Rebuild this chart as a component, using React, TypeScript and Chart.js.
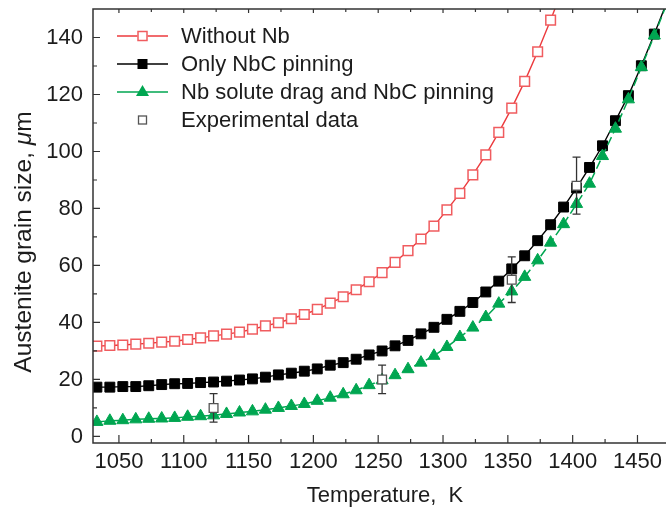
import React, { useEffect, useRef } from "react";
import { Chart, registerables } from "chart.js";

Chart.register(...registerables);

// ---- data ----
const redT = [1033, 1043, 1053, 1063, 1073, 1083, 1093, 1103, 1113, 1123, 1133, 1143, 1153, 1163, 1173, 1183, 1193, 1203, 1213, 1223, 1233, 1243, 1253, 1263, 1273, 1283, 1293, 1303, 1313, 1323, 1333, 1343, 1353, 1363, 1373, 1383, 1393];
const redV = [31.7, 31.9, 32.1, 32.4, 32.7, 33.1, 33.4, 34.0, 34.6, 35.3, 35.9, 36.6, 37.6, 38.8, 39.9, 41.3, 42.8, 44.6, 46.8, 49.0, 51.5, 54.3, 57.5, 61.1, 65.2, 69.3, 73.8, 79.5, 85.3, 91.8, 98.8, 106.7, 115.2, 124.6, 135.0, 146.1, 158.0];

const modelT = [1033, 1043, 1053, 1063, 1073, 1083, 1093, 1103, 1113, 1123, 1133, 1143, 1153, 1163, 1173, 1183, 1193, 1203, 1213, 1223, 1233, 1243, 1253, 1263, 1273, 1283, 1293, 1303, 1313, 1323, 1333, 1343, 1353, 1363, 1373, 1383, 1393, 1403, 1413, 1423, 1433, 1443, 1453, 1463, 1473];
const blackV = [17.3, 17.3, 17.5, 17.5, 17.8, 18.2, 18.5, 18.6, 18.9, 19.1, 19.4, 19.8, 20.2, 20.8, 21.6, 22.2, 22.9, 23.7, 25.0, 25.9, 27.1, 28.6, 30.0, 31.8, 33.7, 36.0, 38.3, 41.1, 43.9, 47.0, 50.7, 54.5, 58.8, 63.4, 68.7, 74.3, 80.5, 87.2, 94.4, 102.0, 110.8, 119.6, 130.1, 141.2, 152.8];
const greenV = [5.1, 5.5, 5.7, 6.0, 6.2, 6.3, 6.5, 6.9, 7.1, 7.4, 7.9, 8.4, 8.8, 9.4, 10.0, 10.7, 11.4, 12.5, 13.6, 14.8, 16.2, 18.0, 19.7, 21.5, 23.6, 25.9, 28.3, 31.4, 34.9, 38.2, 41.9, 46.6, 50.9, 56.0, 61.8, 68.0, 74.5, 81.6, 88.7, 98.4, 108.0, 118.3, 129.6, 140.7, 152.3];

const expT = [1123, 1253, 1353, 1403];
const expV = [10, 20, 55, 88];
const expErr = [5, 5, 8, 10];

const xTicks = [1050, 1100, 1150, 1200, 1250, 1300, 1350, 1400, 1450];
const xMinor = [1075, 1125, 1175, 1225, 1275, 1325, 1375, 1425];
const yTicks = [0, 20, 40, 60, 80, 100, 120, 140];
const yMinor = [10, 30, 50, 70, 90, 110, 130];

const labels = ["Without Nb", "Only NbC pinning", "Nb solute drag and NbC pinning", "Experimental data"];

const RED = "#ec3a3d";
const RED_PT = "#f05c5f";
const GREEN = "#00a651";
const AXIS = "#333333";
const TEXT = "#1c1c1c";
const FONT = '"Liberation Sans", Arial, sans-serif';

function pts(xs: number[], ys: number[]) {
  return xs.map((x, i) => ({ x, y: ys[i] }));
}

const decor = {
  id: "decor",
  beforeDatasetDraw(chart: any, args: any) {
    if (args.index !== 3) return;
    const { ctx, scales } = chart;
    const xs = scales.x, ys = scales.y;
    ctx.save();
    ctx.strokeStyle = AXIS;
    ctx.lineWidth = 1.3;
    expT.forEach((t, i) => {
      const px = xs.getPixelForValue(t);
      const top = ys.getPixelForValue(expV[i] + expErr[i]);
      const bot = ys.getPixelForValue(expV[i] - expErr[i]);
      ctx.beginPath();
      ctx.moveTo(px, top);
      ctx.lineTo(px, bot);
      ctx.moveTo(px - 4, top);
      ctx.lineTo(px + 4, top);
      ctx.moveTo(px - 4, bot);
      ctx.lineTo(px + 4, bot);
      ctx.stroke();
    });
    ctx.restore();
  },
  afterDraw(chart: any) {
    const { ctx, chartArea: a, scales } = chart;
    const xs = scales.x, ys = scales.y;
    ctx.save();
    // frame
    ctx.strokeStyle = AXIS;
    ctx.lineWidth = 1.5;
    ctx.beginPath();
    ctx.moveTo(a.right + 2, a.top);
    ctx.lineTo(a.left, a.top);
    ctx.lineTo(a.left, a.bottom);
    ctx.lineTo(a.right + 2, a.bottom);
    ctx.stroke();
    // ticks
    ctx.lineWidth = 1.2;
    ctx.beginPath();
    yTicks.forEach((v) => {
      const p = ys.getPixelForValue(v);
      ctx.moveTo(a.left, p);
      ctx.lineTo(a.left + 7, p);
    });
    yMinor.forEach((v) => {
      const p = ys.getPixelForValue(v);
      ctx.moveTo(a.left, p);
      ctx.lineTo(a.left + 4, p);
    });
    xTicks.forEach((v) => {
      const p = xs.getPixelForValue(v);
      ctx.moveTo(p, a.bottom);
      ctx.lineTo(p, a.bottom - 8);
      ctx.moveTo(p, a.top);
      ctx.lineTo(p, a.top + 4);
    });
    xMinor.forEach((v) => {
      const p = xs.getPixelForValue(v);
      ctx.moveTo(p, a.bottom);
      ctx.lineTo(p, a.bottom - 4);
      ctx.moveTo(p, a.top);
      ctx.lineTo(p, a.top + 3);
    });
    ctx.stroke();

    // axis titles
    ctx.fillStyle = TEXT;
    ctx.font = `22px ${FONT}`;
    ctx.textBaseline = "middle";
    ctx.textAlign = "center";
    ctx.fillText("Temperature,  K", 385, 496);

    const fs = 24.5;
    const p1 = "Austenite grain size, ";
    const p2 = "\u03BC";
    const p3 = "m";
    ctx.font = `${fs}px ${FONT}`;
    const w1 = ctx.measureText(p1).width;
    const w3 = ctx.measureText(p3).width;
    ctx.font = `italic ${fs}px ${FONT}`;
    const w2 = ctx.measureText(p2).width;
    const total = w1 + w2 + w3;
    ctx.translate(24, 242);
    ctx.rotate(-Math.PI / 2);
    ctx.textAlign = "left";
    const x0 = -total / 2;
    ctx.font = `${fs}px ${FONT}`;
    ctx.fillText(p1, x0, 0);
    ctx.font = `italic ${fs}px ${FONT}`;
    ctx.fillText(p2, x0 + w1, 0);
    ctx.font = `${fs}px ${FONT}`;
    ctx.fillText(p3, x0 + w1 + w2, 0);
    ctx.setTransform(1, 0, 0, 1, 0, 0);

    // legend
    const rows = [36, 64, 92, 120];
    const lx0 = 117, lx1 = 168, mx = 142.5, tx = 181;
    ctx.font = `22px ${FONT}`;
    ctx.textAlign = "left";
    ctx.textBaseline = "middle";
    // red
    ctx.lineWidth = 1.5;
    ctx.strokeStyle = RED;
    ctx.beginPath();
    ctx.moveTo(lx0, rows[0]); ctx.lineTo(lx1, rows[0]);
    ctx.stroke();
    ctx.fillStyle = "#fff";
    ctx.fillRect(mx - 5, rows[0] - 5, 10, 10);
    ctx.strokeStyle = RED_PT;
    ctx.strokeRect(mx - 4.5, rows[0] - 4.5, 9, 9);
    // black
    ctx.strokeStyle = "#000";
    ctx.beginPath();
    ctx.moveTo(lx0, rows[1]); ctx.lineTo(lx1, rows[1]);
    ctx.stroke();
    ctx.fillStyle = "#000";
    ctx.fillRect(mx - 5, rows[1] - 5, 10, 10);
    // green
    ctx.strokeStyle = GREEN;
    ctx.beginPath();
    ctx.moveTo(lx0, rows[2]); ctx.lineTo(lx1, rows[2]);
    ctx.stroke();
    ctx.fillStyle = GREEN;
    ctx.beginPath();
    ctx.moveTo(mx, rows[2] - 7);
    ctx.lineTo(mx + 6.5, rows[2] + 4);
    ctx.lineTo(mx - 6.5, rows[2] + 4);
    ctx.closePath();
    ctx.fill();
    // exp
    ctx.fillStyle = "#fff";
    ctx.fillRect(mx - 4, rows[3] - 4, 8, 8);
    ctx.strokeStyle = "#555";
    ctx.lineWidth = 1.3;
    ctx.strokeRect(mx - 4, rows[3] - 4, 8, 8);

    ctx.fillStyle = TEXT;
    labels.forEach((l, i) => ctx.fillText(l, tx, rows[i] + 1));
    ctx.restore();
  },
};

export default function App() {
  const ref = useRef<HTMLCanvasElement | null>(null);
  useEffect(() => {
    if (!ref.current) return;
    const chart = new Chart(ref.current, {
      type: "line",
      data: {
        datasets: [
          {
            label: labels[0],
            data: pts(redT, redV),
            borderColor: RED,
            borderWidth: 1.4,
            pointStyle: "rect",
            pointRadius: 6.8,
            pointBorderColor: RED_PT,
            pointBackgroundColor: "#ffffff",
            pointBorderWidth: 1.5,
            tension: 0,
            order: 3,
          },
          {
            label: labels[1],
            data: pts(modelT, blackV),
            borderColor: "#000",
            borderWidth: 1.4,
            pointStyle: "rect",
            pointRadius: 7,
            pointBorderColor: "#000",
            pointBackgroundColor: "#000",
            pointBorderWidth: 1,
            tension: 0,
            order: 2,
          },
          {
            label: labels[2],
            data: pts(modelT, greenV),
            borderColor: GREEN,
            borderWidth: 1.5,
            borderDash: [9, 4],
            pointStyle: "triangle",
            pointRadius: 7,
            pointBorderColor: GREEN,
            pointBackgroundColor: GREEN,
            pointBorderWidth: 1,
            tension: 0,
            order: 1,
          },
          {
            label: labels[3],
            data: pts(expT, expV),
            showLine: false,
            pointStyle: "rect",
            pointRadius: 6.2,
            pointBorderColor: "#555",
            pointBackgroundColor: "#ffffff",
            pointBorderWidth: 1.3,
            order: 0,
          },
        ],
      },
      options: {
        animation: false,
        responsive: false,
        maintainAspectRatio: false,
        layout: { autoPadding: false, padding: { top: 9, right: 0, left: 0, bottom: 0 } },
        plugins: { legend: { display: false }, tooltip: { enabled: false } },
        scales: {
          x: {
            type: "linear",
            min: 1030,
            max: 1472,
            grid: { display: false, drawTicks: false },
            border: { display: false },
            ticks: {
              font: { size: 22, family: FONT },
              color: TEXT,
              padding: 6,
              maxRotation: 0,
              callback: (v: any) => String(v),
            },
            afterBuildTicks: (s: any) => {
              s.ticks = xTicks.map((v) => ({ value: v }));
            },
            afterFit: (s: any) => {
              s.height = 68;
              s.paddingLeft = 0;
              s.paddingRight = 0;
              s.paddingTop = 0;
              s.paddingBottom = 0;
            },
          },
          y: {
            type: "linear",
            min: -2.3,
            max: 150,
            grid: { display: false, drawTicks: false },
            border: { display: false },
            ticks: {
              font: { size: 22, family: FONT },
              color: TEXT,
              padding: 10,
              callback: (v: any) => String(v),
            },
            afterBuildTicks: (s: any) => {
              s.ticks = yTicks.map((v) => ({ value: v }));
            },
            afterFit: (s: any) => {
              s.width = 93;
              s.paddingLeft = 0;
              s.paddingRight = 0;
              s.paddingTop = 0;
              s.paddingBottom = 0;
            },
          },
        },
      },
      plugins: [decor],
    } as any);
    return () => chart.destroy();
  }, []);
  return (
    <div style={{ position: "fixed", left: 0, top: 0, width: 666, height: 511, background: "#fff" }}>
      <canvas ref={ref} width={666} height={511} style={{ display: "block" }} />
    </div>
  );
}
